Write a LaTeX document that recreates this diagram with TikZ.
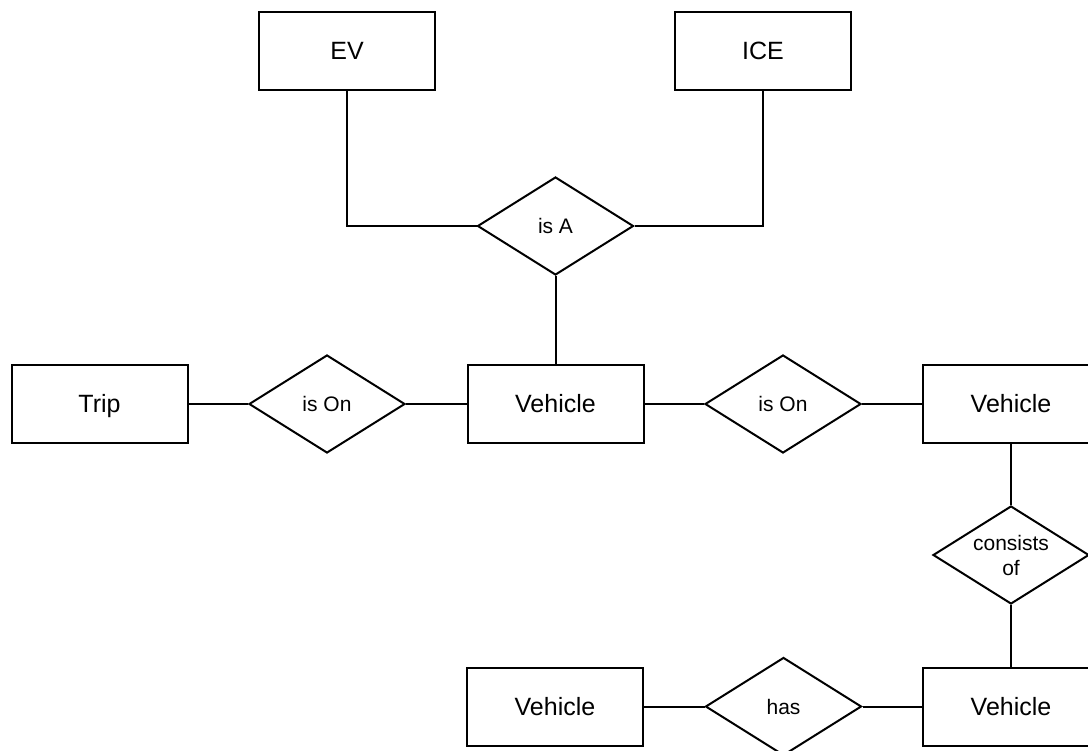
\documentclass[tikz,border=0pt]{standalone}
\usepackage{fontspec}
\setmainfont{Liberation Sans}
\usetikzlibrary{shapes.geometric}
\begin{document}
\begin{tikzpicture}[x=1pt,y=-1pt,
  line width=2pt,
  entity/.style={draw, rectangle, minimum width=176pt, minimum height=78pt,
    inner sep=0pt, text height=18pt, text depth=0pt,
    font=\fontsize{25}{30}\selectfont},
  relation/.style={draw, diamond, minimum width=156pt, minimum height=98pt,
    inner sep=0pt, text height=15pt, text depth=0pt,
    font=\fontsize{21}{25}\selectfont},
  reltext/.style={inner sep=0pt, anchor=base, font=\fontsize{21}{25}\selectfont},
  link/.style={draw, line width=2pt}]
  \useasboundingbox (0,0) rectangle (1088,751);
  \fill[white] (0,0) rectangle (1088,751);
  \clip (0,0) rectangle (1088,751);

  % entities
  \node[entity] (ev)   at (347,51)    {EV};
  \node[entity] (ice)  at (763,51)    {ICE};
  \node[entity] (trip) at (99.5,404)  {Trip};
  \node[entity] (vehA) at (555.5,404) {Vehicle};
  \node[entity] (vehB) at (1011,404)  {Vehicle};
  \node[entity] (vehC) at (1011,706.5) {Vehicle};
  \node[entity] (vehD) at (555,706.5) {Vehicle};

  % relationships
  \node[relation] (isa)   at (555.5,226) {is A};
  \node[relation] (ison1) at (327,404)   {is On};
  \node[relation] (ison2) at (783,404)   {is On};
  \node[relation] (cons)  at (1011,555)  {};
  \node[reltext] (consA) at (1011,550) {consists};
  \node[reltext] (consB) at (1011,575) {of};
  \node[relation] (has)   at (783.5,706.5) {has};

  % connectors
  \draw[link] (ev.south) |- (isa.west);
  \draw[link] (ice.south) |- (isa.east);
  \draw[link] (isa.south) -- (vehA.north);
  \draw[link] (trip.east) -- (ison1.west);
  \draw[link] (ison1.east) -- (vehA.west);
  \draw[link] (vehA.east) -- (ison2.west);
  \draw[link] (ison2.east) -- (vehB.west);
  \draw[link] (vehB.south) -- (cons.north);
  \draw[link] (cons.south) -- (vehC.north);
  \draw[link] (vehC.west) -- (has.east);
  \draw[link] (has.west) -- (vehD.east);
\end{tikzpicture}
\end{document}
